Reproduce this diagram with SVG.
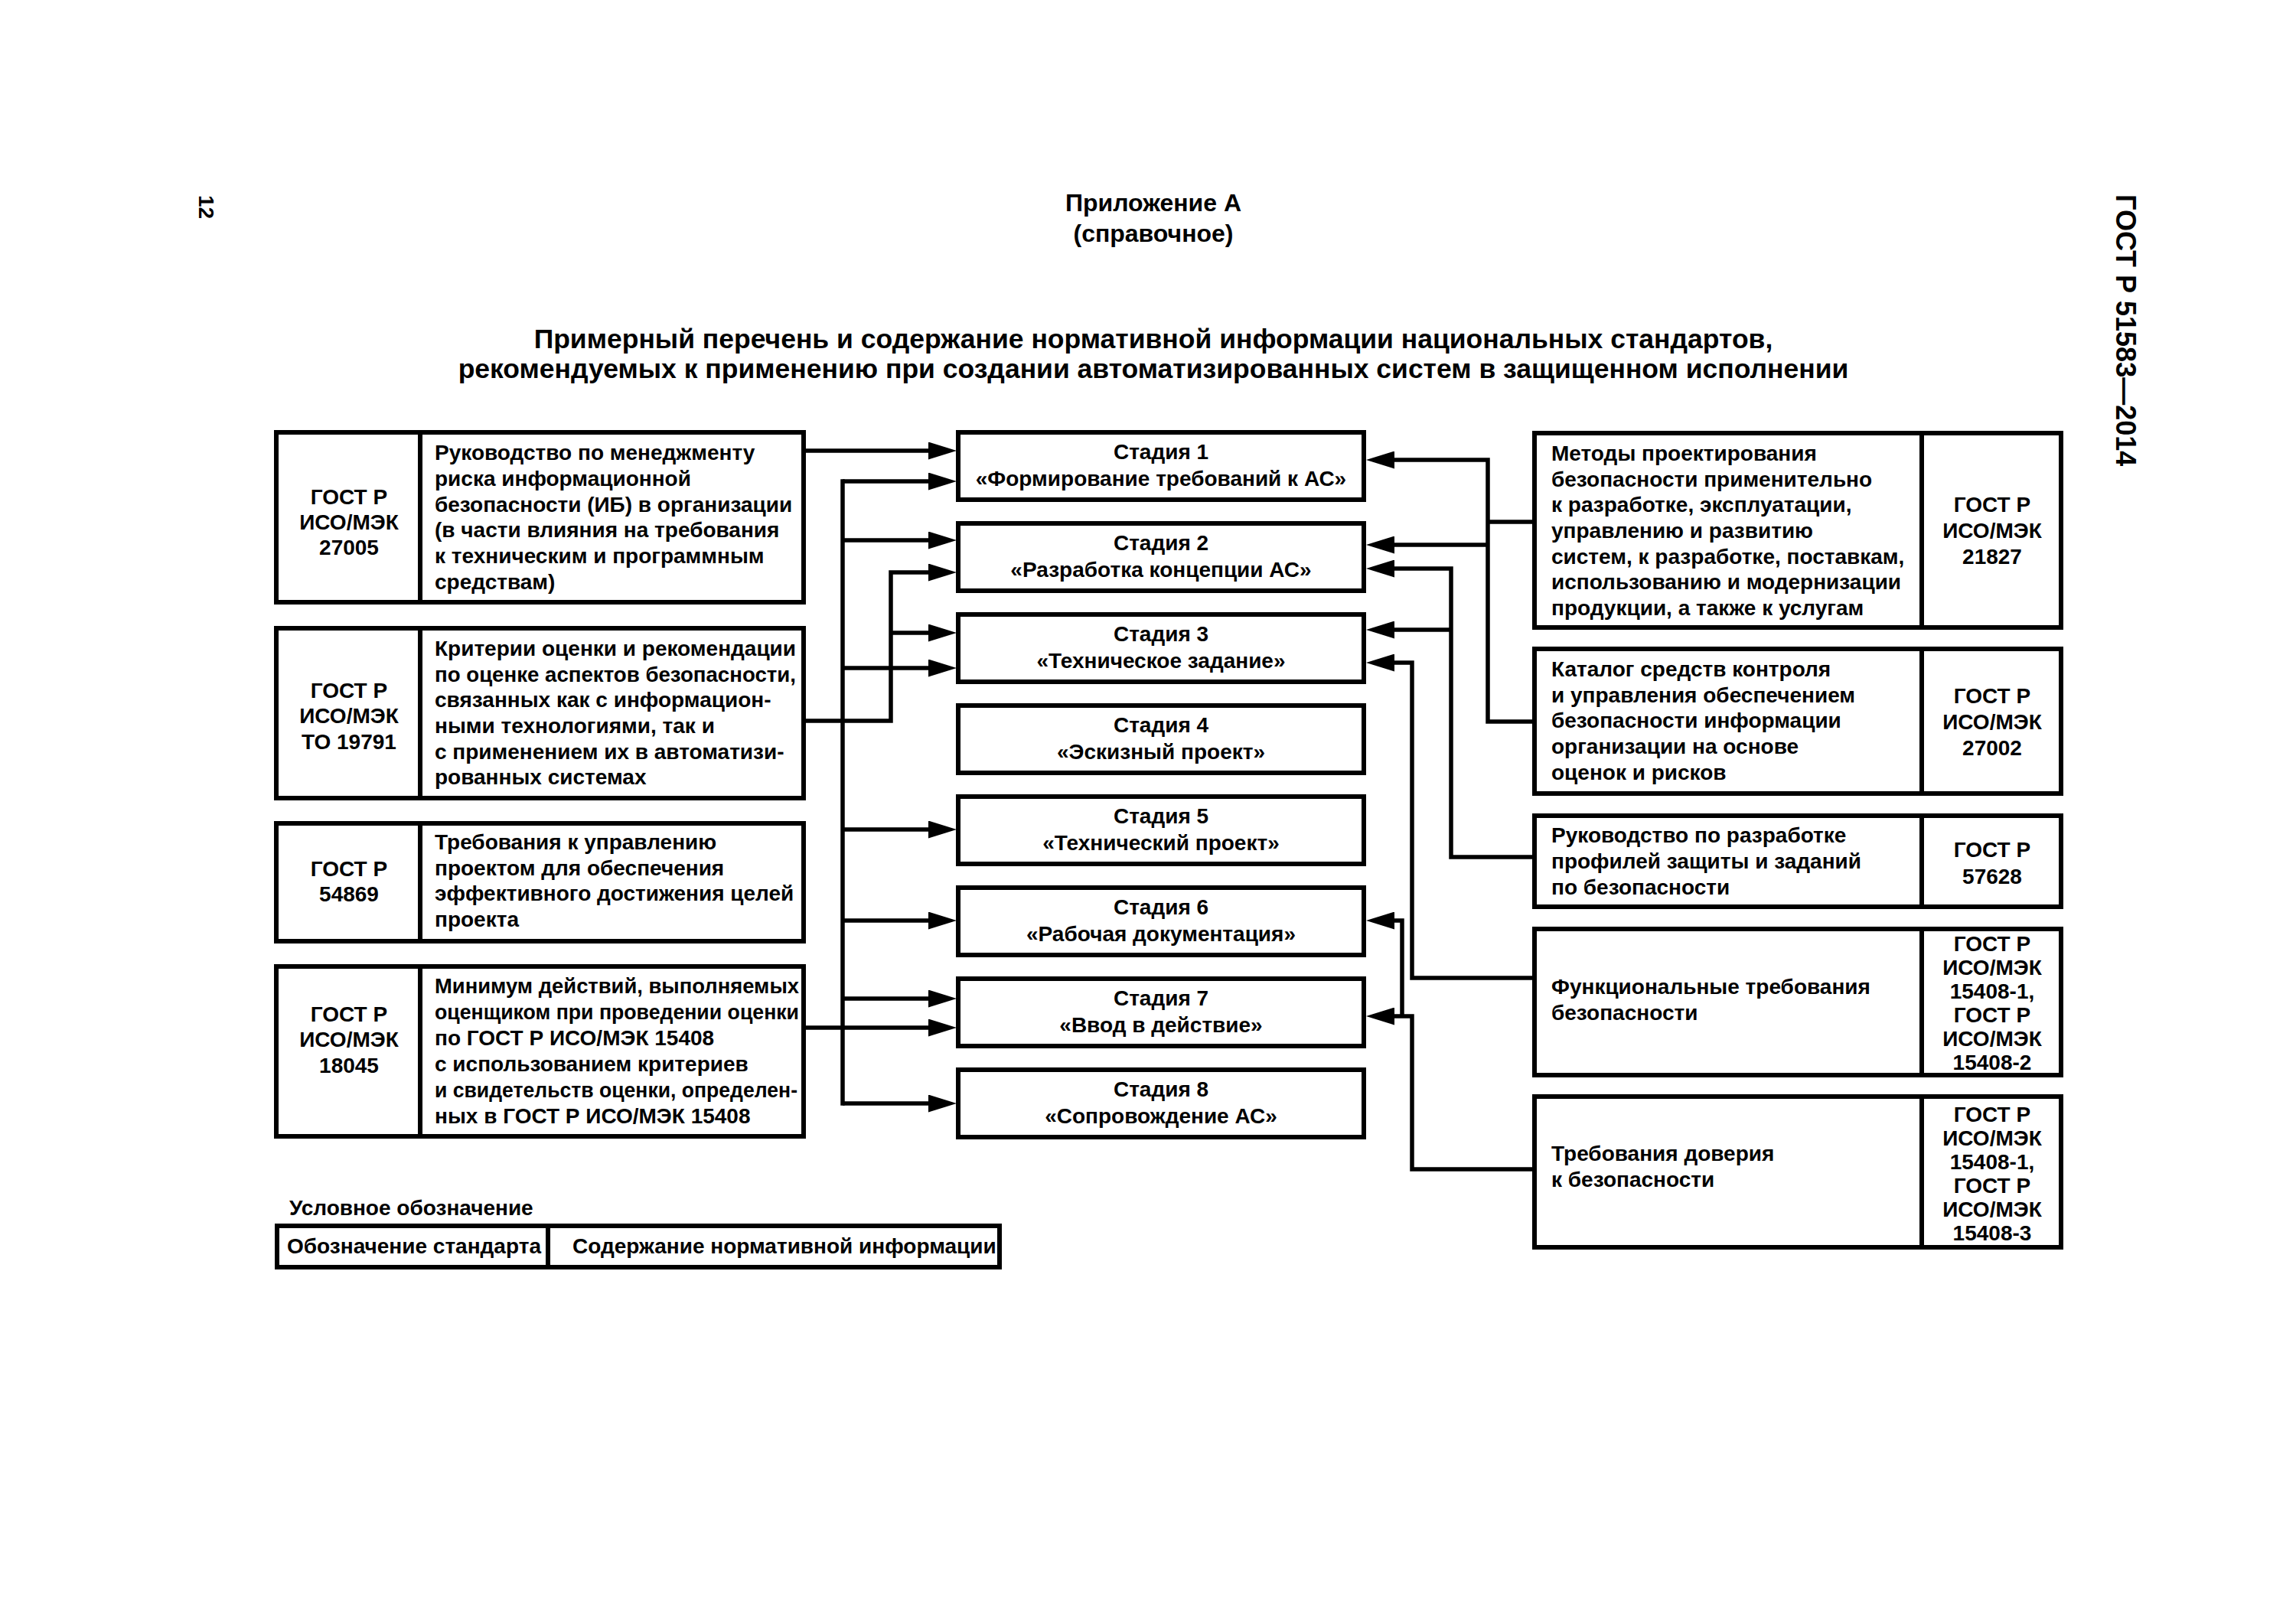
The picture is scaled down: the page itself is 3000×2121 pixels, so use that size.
<svg xmlns="http://www.w3.org/2000/svg" width="3000" height="2121" viewBox="0 0 3000 2121">
<defs>
<style>
text{font-family:"Liberation Sans",Arial,sans-serif;font-weight:bold;font-size:28px;fill:#000}
.box{fill:#fff;stroke:#000;stroke-width:6}
.div{stroke:#000;stroke-width:6}
.c{fill:none;stroke:#000;stroke-width:5.5;stroke-linejoin:miter;stroke-linecap:butt}
.bus{fill:none;stroke:#000;stroke-width:5.5;stroke-linecap:square}
.mid{text-anchor:middle}
.title{font-size:35.5px}
</style>
<marker id="ar" markerUnits="userSpaceOnUse" markerWidth="37" markerHeight="23" refX="0" refY="11.5" orient="auto" viewBox="0 0 37 23">
<path d="M0,0 L37,11.5 L0,23 z" fill="#000"/>
</marker>
</defs>
<rect width="3000" height="2121" fill="#fff"/>

<g id="header">
<text x="1507" y="276" class="mid" style="font-size:32px">Приложение А</text>
<text x="1507" y="316" class="mid" style="font-size:32px">(справочное)</text>
<text x="1507" y="455" class="mid title">Примерный перечень и содержание нормативной информации национальных стандартов,</text>
<text x="1507" y="494" class="mid title">рекомендуемых к применению при создании автоматизированных систем в защищенном исполнении</text>
<text transform="translate(260,255) rotate(90)">12</text>
<text transform="translate(2765,254) rotate(90)" style="font-size:36px">ГОСТ Р 51583—2014</text>
</g>

<g id="connectors">
<path class="c" d="M1053,589 H1213" marker-end="url(#ar)"/>
<path class="bus" d="M1101,629 V1442"/>
<path class="c" d="M1101,629 H1213" marker-end="url(#ar)"/>
<path class="c" d="M1101,706 H1213" marker-end="url(#ar)"/>
<path class="c" d="M1101,873 H1213" marker-end="url(#ar)"/>
<path class="c" d="M1101,1084 H1213" marker-end="url(#ar)"/>
<path class="c" d="M1101,1203 H1213" marker-end="url(#ar)"/>
<path class="c" d="M1101,1305 H1213" marker-end="url(#ar)"/>
<path class="c" d="M1101,1442 H1213" marker-end="url(#ar)"/>
<path class="c" d="M1053,1343 H1213" marker-end="url(#ar)"/>
<path class="c" d="M1053,942 H1164 V748 H1213" marker-end="url(#ar)"/>
<path class="c" d="M1164,827 H1213" marker-end="url(#ar)"/>

<path class="c" d="M2004,682 H1944"/>
<path class="c" d="M2004,943 H1944 V601 H1822" marker-end="url(#ar)"/>
<path class="c" d="M1944,712 H1822" marker-end="url(#ar)"/>
<path class="c" d="M2004,1120 H1896 V743 H1822" marker-end="url(#ar)"/>
<path class="c" d="M1896,823 H1822" marker-end="url(#ar)"/>
<path class="c" d="M2004,1278 H1845 V866 H1822" marker-end="url(#ar)"/>
<path class="c" d="M2004,1528 H1845 V1328 H1822" marker-end="url(#ar)"/>
<path class="c" d="M1832,1328 V1203 H1822" marker-end="url(#ar)"/>
</g>

<g id="std-27005">
<rect class="box" x="361" y="565" width="689" height="222"/>
<line class="div" x1="549" y1="565" x2="549" y2="787"/>
<text x="456" y="659" class="mid">ГОСТ Р</text>
<text x="456" y="692" class="mid">ИСО/МЭК</text>
<text x="456" y="725" class="mid">27005</text>
<text x="568" y="601">Руководство по менеджменту</text>
<text x="568" y="635">риска информационной</text>
<text x="568" y="669">безопасности (ИБ) в организации</text>
<text x="568" y="702">(в части влияния на требования</text>
<text x="568" y="736">к техническим и программным</text>
<text x="568" y="770">средствам)</text>
</g>

<g id="std-19791">
<rect class="box" x="361" y="821" width="689" height="222"/>
<line class="div" x1="549" y1="821" x2="549" y2="1043"/>
<text x="456" y="912" class="mid">ГОСТ Р</text>
<text x="456" y="945" class="mid">ИСО/МЭК</text>
<text x="456" y="979" class="mid">ТО 19791</text>
<text x="568" y="857">Критерии оценки и рекомендации</text>
<text x="568" y="891" textLength="472" lengthAdjust="spacingAndGlyphs">по оценке аспектов безопасности,</text>
<text x="568" y="924">связанных как с информацион-</text>
<text x="568" y="958">ными технологиями, так и</text>
<text x="568" y="992">с применением их в автоматизи-</text>
<text x="568" y="1025">рованных системах</text>
</g>

<g id="std-54869">
<rect class="box" x="361" y="1076" width="689" height="154"/>
<line class="div" x1="549" y1="1076" x2="549" y2="1230"/>
<text x="456" y="1145" class="mid">ГОСТ Р</text>
<text x="456" y="1178" class="mid">54869</text>
<text x="568" y="1110">Требования к управлению</text>
<text x="568" y="1144">проектом для обеспечения</text>
<text x="568" y="1177">эффективного достижения целей</text>
<text x="568" y="1211">проекта</text>
</g>

<g id="std-18045">
<rect class="box" x="361" y="1263" width="689" height="222"/>
<line class="div" x1="549" y1="1263" x2="549" y2="1485"/>
<text x="456" y="1335" class="mid">ГОСТ Р</text>
<text x="456" y="1368" class="mid">ИСО/МЭК</text>
<text x="456" y="1402" class="mid">18045</text>
<text x="568" y="1298" textLength="476" lengthAdjust="spacingAndGlyphs">Минимум действий, выполняемых</text>
<text x="568" y="1332" textLength="476" lengthAdjust="spacingAndGlyphs">оценщиком при проведении оценки</text>
<text x="568" y="1366">по ГОСТ Р ИСО/МЭК 15408</text>
<text x="568" y="1400">с использованием критериев</text>
<text x="568" y="1434" textLength="474" lengthAdjust="spacingAndGlyphs">и свидетельств оценки, определен-</text>
<text x="568" y="1468">ных в ГОСТ Р ИСО/МЭК 15408</text>
</g>

<g id="stage-1"><rect class="box" x="1252" y="565" width="530" height="88"/>
<text x="1517" y="600" class="mid">Стадия 1</text><text x="1517" y="635" class="mid">«Формирование требований к АС»</text></g>
<g id="stage-2"><rect class="box" x="1252" y="684" width="530" height="88"/>
<text x="1517" y="719" class="mid">Стадия 2</text><text x="1517" y="754" class="mid">«Разработка концепции АС»</text></g>
<g id="stage-3"><rect class="box" x="1252" y="803" width="530" height="88"/>
<text x="1517" y="838" class="mid">Стадия 3</text><text x="1517" y="873" class="mid">«Техническое задание»</text></g>
<g id="stage-4"><rect class="box" x="1252" y="922" width="530" height="88"/>
<text x="1517" y="957" class="mid">Стадия 4</text><text x="1517" y="992" class="mid">«Эскизный проект»</text></g>
<g id="stage-5"><rect class="box" x="1252" y="1041" width="530" height="88"/>
<text x="1517" y="1076" class="mid">Стадия 5</text><text x="1517" y="1111" class="mid">«Технический проект»</text></g>
<g id="stage-6"><rect class="box" x="1252" y="1160" width="530" height="88"/>
<text x="1517" y="1195" class="mid">Стадия 6</text><text x="1517" y="1230" class="mid">«Рабочая документация»</text></g>
<g id="stage-7"><rect class="box" x="1252" y="1279" width="530" height="88"/>
<text x="1517" y="1314" class="mid">Стадия 7</text><text x="1517" y="1349" class="mid">«Ввод в действие»</text></g>
<g id="stage-8"><rect class="box" x="1252" y="1398" width="530" height="88"/>
<text x="1517" y="1433" class="mid">Стадия 8</text><text x="1517" y="1468" class="mid">«Сопровождение АС»</text></g>

<g id="std-21827">
<rect class="box" x="2005" y="566" width="688" height="254"/>
<line class="div" x1="2511" y1="566" x2="2511" y2="820"/>
<text x="2027" y="602">Методы проектирования</text>
<text x="2027" y="636">безопасности применительно</text>
<text x="2027" y="669">к разработке, эксплуатации,</text>
<text x="2027" y="703">управлению и развитию</text>
<text x="2027" y="737">систем, к разработке, поставкам,</text>
<text x="2027" y="770">использованию и модернизации</text>
<text x="2027" y="804">продукции, а также к услугам</text>
<text x="2603" y="669" class="mid">ГОСТ Р</text>
<text x="2603" y="703" class="mid">ИСО/МЭК</text>
<text x="2603" y="737" class="mid">21827</text>
</g>

<g id="std-27002">
<rect class="box" x="2005" y="848" width="688" height="189"/>
<line class="div" x1="2511" y1="848" x2="2511" y2="1037"/>
<text x="2027" y="884">Каталог средств контроля</text>
<text x="2027" y="918">и управления обеспечением</text>
<text x="2027" y="951">безопасности информации</text>
<text x="2027" y="985">организации на основе</text>
<text x="2027" y="1019">оценок и рисков</text>
<text x="2603" y="919" class="mid">ГОСТ Р</text>
<text x="2603" y="953" class="mid">ИСО/МЭК</text>
<text x="2603" y="987" class="mid">27002</text>
</g>

<g id="std-57628">
<rect class="box" x="2005" y="1066" width="688" height="119"/>
<line class="div" x1="2511" y1="1066" x2="2511" y2="1185"/>
<text x="2027" y="1101">Руководство по разработке</text>
<text x="2027" y="1135">профилей защиты и заданий</text>
<text x="2027" y="1169">по безопасности</text>
<text x="2603" y="1120" class="mid">ГОСТ Р</text>
<text x="2603" y="1155" class="mid">57628</text>
</g>

<g id="std-15408-2">
<rect class="box" x="2005" y="1214" width="688" height="191"/>
<line class="div" x1="2511" y1="1214" x2="2511" y2="1405"/>
<text x="2027" y="1299">Функциональные требования</text>
<text x="2027" y="1333">безопасности</text>
<text x="2603" y="1243" class="mid">ГОСТ Р</text>
<text x="2603" y="1274" class="mid">ИСО/МЭК</text>
<text x="2603" y="1305" class="mid">15408-1,</text>
<text x="2603" y="1336" class="mid">ГОСТ Р</text>
<text x="2603" y="1367" class="mid">ИСО/МЭК</text>
<text x="2603" y="1398" class="mid">15408-2</text>
</g>

<g id="std-15408-3">
<rect class="box" x="2005" y="1433" width="688" height="197"/>
<line class="div" x1="2511" y1="1433" x2="2511" y2="1630"/>
<text x="2027" y="1517">Требования доверия</text>
<text x="2027" y="1551">к безопасности</text>
<text x="2603" y="1466" class="mid">ГОСТ Р</text>
<text x="2603" y="1497" class="mid">ИСО/МЭК</text>
<text x="2603" y="1528" class="mid">15408-1,</text>
<text x="2603" y="1559" class="mid">ГОСТ Р</text>
<text x="2603" y="1590" class="mid">ИСО/МЭК</text>
<text x="2603" y="1621" class="mid">15408-3</text>
</g>

<g id="legend">
<text x="378" y="1588">Условное обозначение</text>
<rect class="box" x="362" y="1602" width="944" height="54"/>
<line class="div" x1="716" y1="1602" x2="716" y2="1656"/>
<text x="375" y="1638">Обозначение стандарта</text>
<text x="748" y="1638">Содержание нормативной информации</text>
</g>
</svg>
